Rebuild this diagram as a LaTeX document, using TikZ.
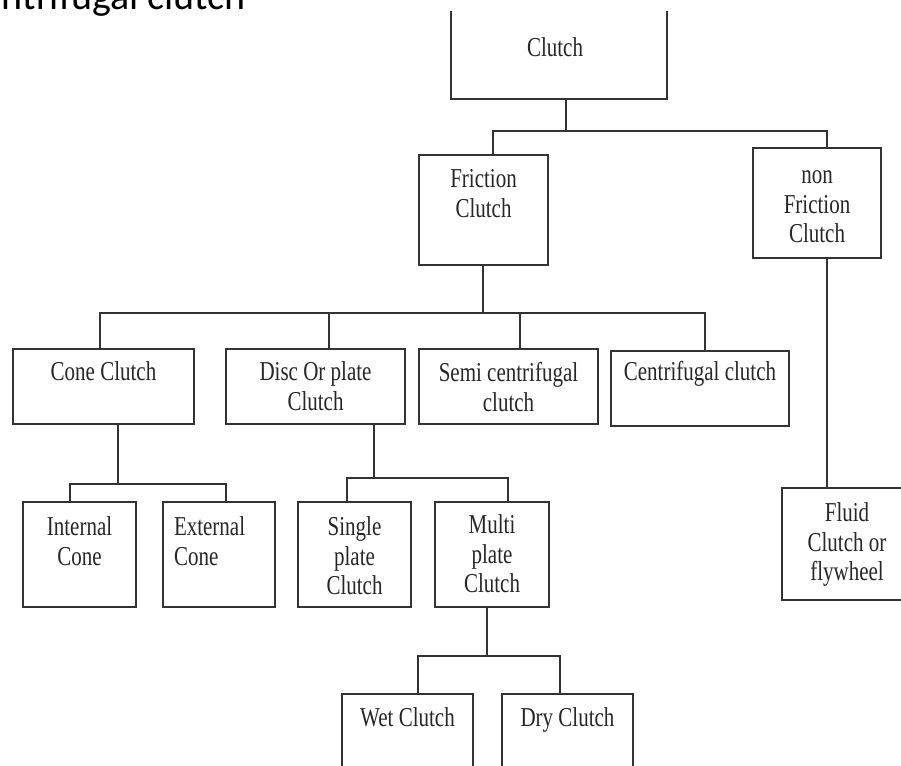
\documentclass[tikz,border=0pt]{standalone}
\usepackage{fontspec}
\usepackage{graphicx}
\setmainfont{Liberation Serif}
\newfontfamily\headfont{Carlito}
\usetikzlibrary{positioning,fit}
\newcommand{\boxfont}{\fontsize{21}{22.7}\selectfont}
\newcommand{\cltext}[2][c]{\scalebox{1}[1.3]{\begin{tabular}{@{}#1@{}}#2\end{tabular}}}
\tikzset{
    clbox/.style={draw=black!80, line width=1.6pt, inner sep=0pt, outer sep=0pt},
    cltxt/.style={inner sep=0pt, outer sep=0pt, font=\boxfont, text=black!85},
    link/.style={draw=black!80, line width=1.6pt}
}
\begin{document}
\begin{tikzpicture}[x=1pt,y=-1pt]
    \useasboundingbox (0,0) rectangle (901,765);
    \begin{scope}
        \clip (0,0) rectangle (901,765);
        \node[font=\headfont\fontsize{40}{48}\selectfont, anchor=base east, inner sep=0pt] (head) at (246,10) {ntrifugal clutch};
    \end{scope}
    \begin{scope}
        \clip (0,12) rectangle (901,765);
        % boxes
        \node[clbox, fit={(451,-3) (667,99)}] (clutch) {};
        \node[clbox, fit={(419,155) (548,265)}] (friction) {};
        \node[clbox, fit={(753,148) (881,258)}] (nonfric) {};
        \node[clbox, fit={(13,349) (194,424)}] (cone) {};
        \node[clbox, fit={(226,349) (405,424)}] (disc) {};
        \node[clbox, fit={(419,349) (598,424)}] (semi) {};
        \node[clbox, fit={(611,351) (789,426)}] (centri) {};
        \node[clbox, fit={(23,502) (136,607)}] (internal) {};
        \node[clbox, fit={(163,502) (275,607)}] (external) {};
        \node[clbox, fit={(298,502) (411,607)}] (single) {};
        \node[clbox, fit={(435,502) (549,607)}] (multi) {};
        \node[clbox, fit={(342,694) (473,800)}] (wet) {};
        \node[clbox, fit={(502,694) (633,800)}] (dry) {};
        \node[clbox, fit={(782,488) (912,600)}] (fluid) {};
        % texts
        \node[cltxt] (tclutch) at (555,51) {\cltext{Clutch}};
        \node[cltxt, below=12pt of friction.north] (tfriction) {\cltext{Friction\\Clutch}};
        \node[cltxt, below=15pt of nonfric.north] (tnonfric) {\cltext{non\\Friction\\Clutch}};
        \node[cltxt, below=11pt of cone.north] (tcone) {\cltext{Cone Clutch}};
        \node[cltxt, below=11pt of disc.north] (tdisc) {\cltext{Disc Or plate\\Clutch}};
        \node[cltxt, below=12pt of semi.north] (tsemi) {\cltext{Semi centrifugal\\clutch}};
        \node[cltxt, below=9pt of centri.north] (tcentri) {\cltext{Centrifugal clutch}};
        \node[cltxt, below=13pt of internal.north] (tinternal) {\cltext{Internal\\Cone}};
        \node[cltxt, below right=13pt and 11pt of external.north west] (texternal) {\cltext[l]{External\\Cone}};
        \node[cltxt, below=13pt of single.north] (tsingle) {\cltext{Single\\plate\\Clutch}};
        \node[cltxt, below=11pt of multi.north] (tmulti) {\cltext{Multi\\plate\\Clutch}};
        \node[cltxt, below=12pt of wet.north] (twet) {\cltext{Wet Clutch}};
        \node[cltxt, below=12pt of dry.north] (tdry) {\cltext{Dry Clutch}};
        \node[cltxt, below=13pt of fluid.north] (tfluid) {\cltext{Fluid\\Clutch or\\flywheel}};
        % connectors
        \coordinate (jclutch) at (566,131);
        \draw[link] (clutch.south -| jclutch) -- (jclutch);
        \draw[link] ([xshift=9.5pt]friction.north) |- (jclutch) -| ([xshift=10pt]nonfric.north);
        \coordinate (jfriction) at (483,313);
        \draw[link] (friction.south -| jfriction) -- (jfriction);
        \draw[link] ([xshift=-3.5pt]cone.north) |- (jfriction) -| ([xshift=5pt]centri.north);
        \foreach \n/\d in {disc/13.5,semi/11.5}
            \draw[link] ([xshift=\d pt]\n.north) |- (jfriction);
        \coordinate (jcone) at (118,484);
        \draw[link] (cone.south -| jcone) -- (jcone);
        \draw[link] ([xshift=-9.5pt]internal.north) |- (jcone) -| ([xshift=7pt]external.north);
        \coordinate (jdisc) at (374,478);
        \draw[link] (disc.south -| jdisc) -- (jdisc);
        \draw[link] ([xshift=-7.5pt]single.north) |- (jdisc) -| ([xshift=16pt]multi.north);
        \coordinate (jmulti) at (487,656);
        \draw[link] (multi.south -| jmulti) -- (jmulti);
        \draw[link] ([xshift=10.5pt]wet.north) |- (jmulti) -| ([xshift=-7.5pt]dry.north);
        \draw[link] ([xshift=10pt]nonfric.south) -- ([xshift=-20pt]fluid.north);
    \end{scope}
\end{tikzpicture}
\end{document}
